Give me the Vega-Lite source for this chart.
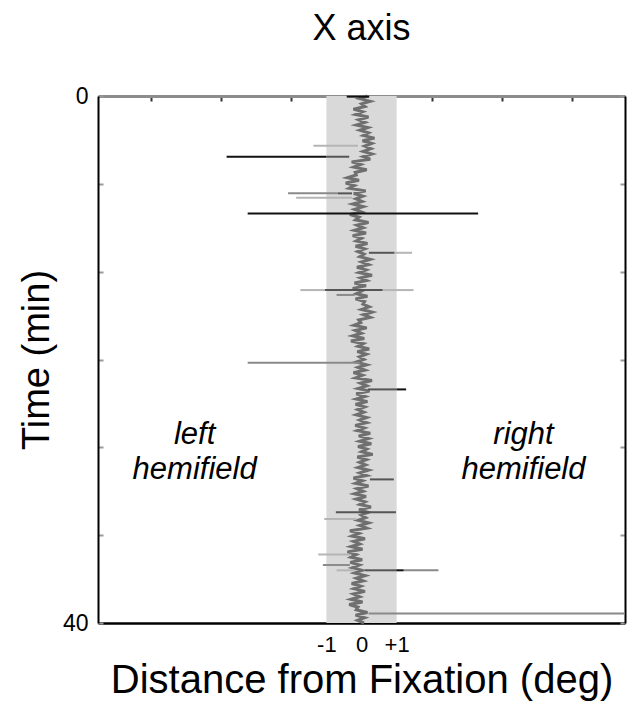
{
  "$schema": "https://vega.github.io/schema/vega-lite/v6.json",
  "width": 527,
  "height": 527,
  "autosize": {"type": "none"},
  "padding": {"left": 98, "top": 96, "right": 2, "bottom": 88},
  "background": "white",
  "config": {"view": {"stroke": null}, "font": "Liberation Sans"},
  "title": {"text": "X axis", "fontSize": 36, "font": "Liberation Sans", "fontWeight": "normal", "color": "black", "anchor": "middle", "offset": 37},
  "datasets": {
    "band": [{"x1": -1, "x2": 1, "t1": 0, "t2": 40}],
    "trace": [
      {"t": 0.0, "x": 0.17}, {"t": 0.2, "x": -0.05}, {"t": 0.4, "x": 0.25}, {"t": 0.6, "x": 0.0}, {"t": 0.8, "x": 0.1},
      {"t": 1.0, "x": -0.23}, {"t": 1.2, "x": 0.03}, {"t": 1.4, "x": -0.17}, {"t": 1.6, "x": 0.2}, {"t": 1.8, "x": -0.08},
      {"t": 2.0, "x": 0.1}, {"t": 2.2, "x": -0.15}, {"t": 2.4, "x": 0.18}, {"t": 2.6, "x": -0.05}, {"t": 2.8, "x": 0.2},
      {"t": 3.0, "x": 0.05}, {"t": 3.2, "x": 0.37}, {"t": 3.4, "x": 0.03}, {"t": 3.6, "x": 0.29}, {"t": 3.8, "x": 0.09},
      {"t": 4.0, "x": 0.27}, {"t": 4.2, "x": 0.05}, {"t": 4.4, "x": 0.3}, {"t": 4.6, "x": 0.05}, {"t": 4.8, "x": 0.25},
      {"t": 5.0, "x": -0.28}, {"t": 5.2, "x": -0.02}, {"t": 5.4, "x": -0.22}, {"t": 5.6, "x": 0.15}, {"t": 5.8, "x": -0.18},
      {"t": 6.0, "x": -0.15}, {"t": 6.2, "x": -0.4}, {"t": 6.4, "x": -0.07}, {"t": 6.6, "x": -0.45}, {"t": 6.8, "x": -0.2},
      {"t": 7.0, "x": -0.35}, {"t": 7.2, "x": 0.12}, {"t": 7.4, "x": -0.22}, {"t": 7.6, "x": 0.04}, {"t": 7.8, "x": -0.16},
      {"t": 8.0, "x": 0.02}, {"t": 8.2, "x": -0.25}, {"t": 8.4, "x": 0.05}, {"t": 8.6, "x": -0.2}, {"t": 8.8, "x": 0.0},
      {"t": 9.0, "x": -0.33}, {"t": 9.2, "x": -0.07}, {"t": 9.4, "x": -0.17}, {"t": 9.6, "x": 0.2}, {"t": 9.8, "x": -0.13},
      {"t": 10.0, "x": 0.05}, {"t": 10.2, "x": -0.2}, {"t": 10.4, "x": 0.13}, {"t": 10.6, "x": -0.25}, {"t": 10.8, "x": 0.0},
      {"t": 11.0, "x": -0.15}, {"t": 11.2, "x": 0.17}, {"t": 11.4, "x": -0.17}, {"t": 11.6, "x": 0.09}, {"t": 11.8, "x": -0.11},
      {"t": 12.0, "x": 0.07}, {"t": 12.2, "x": -0.05}, {"t": 12.4, "x": 0.25}, {"t": 12.6, "x": 0.0}, {"t": 12.8, "x": 0.2},
      {"t": 13.0, "x": -0.13}, {"t": 13.2, "x": 0.13}, {"t": 13.4, "x": -0.07}, {"t": 13.6, "x": 0.3}, {"t": 13.8, "x": -0.03},
      {"t": 14.0, "x": 0.15}, {"t": 14.2, "x": -0.2}, {"t": 14.4, "x": 0.13}, {"t": 14.6, "x": -0.25}, {"t": 14.8, "x": 0.0},
      {"t": 15.0, "x": -0.15}, {"t": 15.2, "x": 0.17}, {"t": 15.4, "x": -0.17}, {"t": 15.6, "x": 0.09}, {"t": 15.8, "x": 0.04},
      {"t": 16.0, "x": 0.22}, {"t": 16.2, "x": 0.0}, {"t": 16.4, "x": 0.3}, {"t": 16.6, "x": 0.05}, {"t": 16.8, "x": 0.25},
      {"t": 17.0, "x": -0.08}, {"t": 17.2, "x": -0.02}, {"t": 17.4, "x": -0.22}, {"t": 17.6, "x": 0.15}, {"t": 17.8, "x": -0.18},
      {"t": 18.0, "x": 0.0}, {"t": 18.2, "x": -0.25}, {"t": 18.4, "x": 0.08}, {"t": 18.6, "x": -0.3}, {"t": 18.8, "x": 0.05},
      {"t": 19.0, "x": -0.1}, {"t": 19.2, "x": 0.22}, {"t": 19.4, "x": -0.12}, {"t": 19.6, "x": 0.14}, {"t": 19.8, "x": -0.06},
      {"t": 20.0, "x": 0.07}, {"t": 20.2, "x": -0.15}, {"t": 20.4, "x": 0.15}, {"t": 20.6, "x": -0.1}, {"t": 20.8, "x": 0.1},
      {"t": 21.0, "x": -0.23}, {"t": 21.2, "x": 0.03}, {"t": 21.4, "x": -0.17}, {"t": 21.6, "x": 0.3}, {"t": 21.8, "x": -0.03},
      {"t": 22.0, "x": 0.15}, {"t": 22.2, "x": -0.1}, {"t": 22.4, "x": 0.23}, {"t": 22.6, "x": -0.15}, {"t": 22.8, "x": 0.1},
      {"t": 23.0, "x": -0.15}, {"t": 23.2, "x": 0.17}, {"t": 23.4, "x": -0.17}, {"t": 23.6, "x": 0.09}, {"t": 23.8, "x": -0.11},
      {"t": 24.0, "x": 0.07}, {"t": 24.2, "x": -0.15}, {"t": 24.4, "x": 0.15}, {"t": 24.6, "x": -0.05}, {"t": 24.8, "x": 0.15},
      {"t": 25.0, "x": -0.18}, {"t": 25.2, "x": 0.08}, {"t": 25.4, "x": -0.12}, {"t": 25.6, "x": 0.25}, {"t": 25.8, "x": -0.08},
      {"t": 26.0, "x": 0.2}, {"t": 26.2, "x": -0.05}, {"t": 26.4, "x": 0.28}, {"t": 26.6, "x": -0.1}, {"t": 26.8, "x": 0.15},
      {"t": 27.0, "x": 0.0}, {"t": 27.2, "x": 0.32}, {"t": 27.4, "x": -0.12}, {"t": 27.6, "x": 0.14}, {"t": 27.8, "x": -0.06},
      {"t": 28.0, "x": 0.12}, {"t": 28.2, "x": -0.1}, {"t": 28.4, "x": 0.2}, {"t": 28.6, "x": -0.05}, {"t": 28.8, "x": 0.15},
      {"t": 29.0, "x": -0.23}, {"t": 29.2, "x": 0.03}, {"t": 29.4, "x": -0.17}, {"t": 29.6, "x": 0.2}, {"t": 29.8, "x": -0.13},
      {"t": 30.0, "x": 0.05}, {"t": 30.2, "x": -0.2}, {"t": 30.4, "x": 0.13}, {"t": 30.6, "x": -0.15}, {"t": 30.8, "x": 0.1},
      {"t": 31.0, "x": -0.05}, {"t": 31.2, "x": 0.27}, {"t": 31.4, "x": -0.07}, {"t": 31.6, "x": 0.19}, {"t": 31.8, "x": -0.01},
      {"t": 32.0, "x": 0.12}, {"t": 32.2, "x": -0.1}, {"t": 32.4, "x": 0.2}, {"t": 32.6, "x": -0.05}, {"t": 32.8, "x": 0.15},
      {"t": 33.0, "x": -0.33}, {"t": 33.2, "x": -0.07}, {"t": 33.4, "x": -0.27}, {"t": 33.6, "x": 0.1}, {"t": 33.8, "x": -0.23},
      {"t": 34.0, "x": -0.05}, {"t": 34.2, "x": -0.3}, {"t": 34.4, "x": 0.03}, {"t": 34.6, "x": -0.4}, {"t": 34.8, "x": -0.15},
      {"t": 35.0, "x": -0.3}, {"t": 35.2, "x": 0.02}, {"t": 35.4, "x": -0.32}, {"t": 35.6, "x": -0.06}, {"t": 35.8, "x": -0.26},
      {"t": 36.0, "x": 0.02}, {"t": 36.2, "x": -0.2}, {"t": 36.4, "x": 0.1}, {"t": 36.6, "x": -0.15}, {"t": 36.8, "x": 0.05},
      {"t": 37.0, "x": -0.28}, {"t": 37.2, "x": -0.02}, {"t": 37.4, "x": -0.22}, {"t": 37.6, "x": 0.1}, {"t": 37.8, "x": -0.23},
      {"t": 38.0, "x": -0.05}, {"t": 38.2, "x": -0.3}, {"t": 38.4, "x": 0.03}, {"t": 38.6, "x": -0.35}, {"t": 38.8, "x": -0.1},
      {"t": 39.0, "x": -0.15}, {"t": 39.2, "x": 0.17}, {"t": 39.4, "x": -0.17}, {"t": 39.6, "x": 0.09}, {"t": 39.8, "x": -0.11},
      {"t": 40.0, "x": 0.07}
    ],
    "segments": [
      {"t": 0.05, "x1": -0.42, "x2": 0.22, "tone": "strong"},
      {"t": 3.77, "x1": -1.37, "x2": -0.1, "tone": "faint"},
      {"t": 4.61, "x1": -1.0, "x2": -0.35, "tone": "medium"},
      {"t": 4.61, "x1": -3.84, "x2": -1.0, "tone": "strong"},
      {"t": 7.39, "x1": -2.09, "x2": -0.67, "tone": "weak"},
      {"t": 7.39, "x1": -0.67, "x2": -0.27, "tone": "medium"},
      {"t": 7.72, "x1": -1.86, "x2": -0.27, "tone": "faint"},
      {"t": 8.91, "x1": -3.24, "x2": 3.32, "tone": "strong"},
      {"t": 11.9, "x1": 0.21, "x2": 0.94, "tone": "medium"},
      {"t": 11.9, "x1": 0.94, "x2": 1.44, "tone": "faint"},
      {"t": 14.73, "x1": -1.74, "x2": -1.04, "tone": "faint"},
      {"t": 14.73, "x1": 0.6, "x2": 1.48, "tone": "faint"},
      {"t": 14.73, "x1": -1.04, "x2": 0.6, "tone": "medium"},
      {"t": 15.1, "x1": -0.71, "x2": -0.19, "tone": "weak"},
      {"t": 20.25, "x1": -3.24, "x2": -0.05, "tone": "weak"},
      {"t": 22.27, "x1": 0.18, "x2": 1.0, "tone": "medium"},
      {"t": 22.27, "x1": 1.0, "x2": 1.27, "tone": "strong"},
      {"t": 29.1, "x1": 0.24, "x2": 0.92, "tone": "medium"},
      {"t": 31.6, "x1": -0.73, "x2": 0.98, "tone": "medium"},
      {"t": 32.1, "x1": -1.06, "x2": -0.14, "tone": "faint"},
      {"t": 34.8, "x1": -1.23, "x2": -0.33, "tone": "faint"},
      {"t": 35.6, "x1": -1.1, "x2": -0.33, "tone": "weak"},
      {"t": 36.0, "x1": -0.71, "x2": -0.2, "tone": "faint"},
      {"t": 36.0, "x1": 1.2, "x2": 2.19, "tone": "weak"},
      {"t": 36.0, "x1": 0.1, "x2": 0.99, "tone": "medium"},
      {"t": 36.0, "x1": 0.99, "x2": 1.2, "tone": "strong"},
      {"t": 39.28, "x1": 0.2, "x2": 7.5, "tone": "weak"}
    ],
    "labels": [
      {"x": -4.75, "t": 25.7, "label": "left\nhemifield"},
      {"x": 4.61, "t": 25.7, "label": "right\nhemifield"}
    ]
  },
  "layer": [
    {
      "data": {"name": "band"},
      "mark": {"type": "rect", "color": "#d9d9d9"},
      "encoding": {
        "x": {"field": "x1", "type": "quantitative", "scale": {"domain": [-7.5, 7.5], "nice": false, "zero": false},
          "axis": {"orient": "top", "values": [-6, -4, -2, 0, 2, 4, 6], "labels": false, "title": null, "grid": false,
            "tickSize": -5, "tickWidth": 2, "tickColor": "#333333", "domainColor": "#8c8c8c", "domainWidth": 3}},
        "x2": {"field": "x2"},
        "y": {"field": "t1", "type": "quantitative", "scale": {"domain": [0, 40], "reverse": true, "nice": false, "zero": false},
          "axis": {"orient": "left", "values": [0, 6.6667, 13.3333, 20, 26.6667, 33.3333, 40], "grid": false,
            "labelExpr": "datum.value == 0 || datum.value == 40 ? datum.label : ''",
            "labelFontSize": 23, "labelColor": "black", "labelPadding": 15, "labelBaseline": "middle",
            "tickSize": -5, "tickWidth": 2, "tickColor": "#999999", "domainColor": "black", "domainWidth": 2,
            "title": "Time (min)", "titleFontSize": 38, "titleFontWeight": "normal", "titleColor": "black", "titlePadding": 6}},
        "y2": {"field": "t2"}
      }
    },
    {
      "data": {"name": "trace"},
      "mark": {"type": "line", "color": "#6f6f6f", "strokeWidth": 3, "strokeJoin": "miter"},
      "encoding": {
        "x": {"field": "x", "type": "quantitative", "axis": null},
        "y": {"field": "t", "type": "quantitative", "axis": null},
        "order": {"field": "t"}
      }
    },
    {
      "data": {"name": "segments"},
      "mark": {"type": "rule", "strokeWidth": 2},
      "encoding": {
        "x": {"field": "x1", "type": "quantitative",
          "axis": {"orient": "bottom", "values": [-1, 0, 1], "grid": false, "ticks": false,
            "labelExpr": "datum.value < 0 ? '-1' : (datum.value > 0 ? '+1' : '0')",
            "labelFontSize": 22, "labelColor": "black", "labelPadding": 11,
            "domainColor": "black", "domainWidth": 2.5,
            "title": "Distance from Fixation (deg)", "titleFontSize": 40, "titleFontWeight": "normal", "titleColor": "black", "titlePadding": 5}},
        "x2": {"field": "x2"},
        "y": {"field": "t", "type": "quantitative",
          "axis": {"orient": "right", "values": [0, 6.6667, 13.3333, 20, 26.6667, 33.3333, 40], "labels": false, "grid": false, "title": null,
            "tickSize": -5, "tickWidth": 2, "tickColor": "#999999", "domainColor": "black", "domainWidth": 2}},
        "color": {"field": "tone", "type": "nominal", "legend": null,
          "scale": {"domain": ["strong", "medium", "weak", "faint"], "range": ["#111111", "#555555", "#8a8a8a", "#b5b5b5"]}}
      }
    },
    {
      "data": {"name": "labels"},
      "mark": {"type": "text", "fontSize": 31, "fontStyle": "italic", "font": "Liberation Sans", "lineBreak": "\n", "lineHeight": 35, "align": "center", "baseline": "middle", "color": "black"},
      "encoding": {
        "x": {"field": "x", "type": "quantitative", "axis": null},
        "y": {"field": "t", "type": "quantitative", "axis": null},
        "text": {"field": "label"}
      }
    }
  ],
  "resolve": {"axis": {"x": "independent", "y": "independent"}}
}
